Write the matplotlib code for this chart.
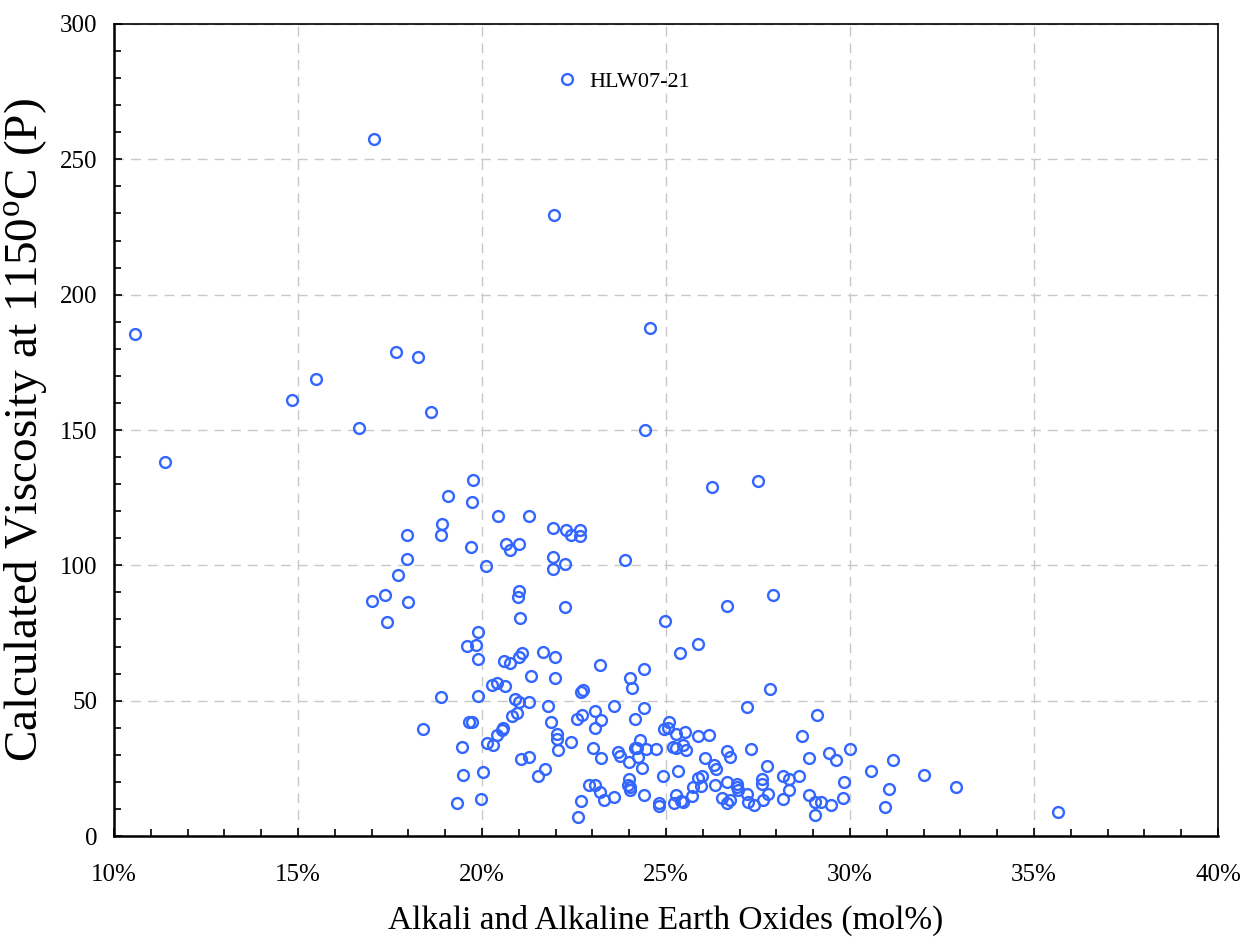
import matplotlib.pyplot as plt
from matplotlib.ticker import MultipleLocator, PercentFormatter

plt.rcParams['font.family'] = ['Liberation Serif', 'DejaVu Serif']
plt.rcParams['mathtext.fontset'] = 'custom'
plt.rcParams['mathtext.rm'] = 'Liberation Serif'

# alkali + alkaline earth oxides (mol%) vs calculated viscosity at 1150 C (P)
alkali_pct = [
    10.56, 11.39, 14.83, 15.50, 16.66, 17.07, 17.66, 18.25, 18.61, 17.97,
    17.97, 17.71, 17.36, 17.02, 17.99, 17.42, 18.39, 18.91, 18.90, 18.88,
    19.07, 19.75, 19.73, 19.69, 19.88, 19.60, 19.83, 19.88, 19.88, 19.66,
    19.74, 19.45, 19.48, 19.31, 19.98, 20.02,
    20.44, 20.65, 20.76, 20.10, 20.61, 20.77, 20.28, 20.41, 20.63, 20.91,
    20.82, 20.95, 20.56, 20.54, 20.42, 20.29, 20.13, 21.00, 21.00, 20.98,
    21.03, 21.08, 21.01, 21.01, 21.05,
    21.29, 21.92, 21.92, 21.92, 21.65, 21.99, 21.34, 21.99, 21.29, 21.79,
    21.88, 21.27, 21.52, 21.72, 21.97,
    22.27, 22.43, 22.67, 22.67, 22.25, 22.25, 22.69, 22.75, 22.57, 22.73,
    22.04, 22.04, 22.07, 22.41, 22.90, 22.70, 22.61,
    23.22, 23.90, 23.60, 23.08, 23.23, 23.06, 23.01, 23.23, 23.70, 23.76,
    23.99, 23.06, 23.21, 23.31, 23.59, 23.99, 23.97, 24.01, 24.01,
    24.03, 24.07, 24.40, 24.39, 24.15, 24.15, 24.21, 24.45, 24.73, 24.30,
    24.23, 24.35, 24.92, 24.40, 24.81, 24.81, 24.98, 24.57, 24.44, 24.94,
    25.07, 25.05, 25.26, 25.53, 25.86, 25.18, 25.26, 25.47, 25.55, 25.34,
    25.21, 25.26, 25.41, 25.45, 25.70, 25.73, 25.86, 25.99, 25.96, 25.86,
    25.37,
    26.25, 26.65, 26.17, 26.06, 26.31, 26.36, 26.65, 26.73, 26.34, 26.51,
    26.66, 26.75, 26.66, 26.93, 26.94, 26.96,
    27.50, 27.90, 27.82, 27.19, 27.30, 27.75, 27.20, 27.23, 27.38, 27.60,
    27.61, 27.76, 27.65,
    28.18, 28.33, 28.62, 28.35, 28.18, 28.70, 28.89, 28.88, 29.05, 29.20,
    29.48, 29.05, 29.10, 29.43, 29.62, 29.85, 29.81, 30.01,
    30.56, 30.94, 31.06, 31.18, 32.00, 32.89, 35.65,
]
viscosity = [
    185.3, 138.3, 161.2, 168.9, 150.8, 257.5, 178.9, 177.0, 156.5, 111.3,
    102.3, 96.6, 89.2, 86.8, 86.6, 79.0, 39.5, 115.3, 111.1, 51.4,
    125.6, 131.4, 123.4, 106.9, 75.3, 70.3, 70.6, 65.4, 51.8, 42.1,
    42.1, 32.9, 22.7, 12.2, 13.6, 23.6,
    118.3, 108.0, 105.5, 99.7, 64.7, 64.1, 55.7, 56.6, 55.5, 50.7,
    44.4, 45.4, 40.0, 39.1, 37.5, 33.7, 34.3, 108.0, 90.4, 88.2,
    80.5, 67.8, 66.3, 49.5, 28.4,
    118.3, 113.8, 102.9, 98.8, 68.0, 66.3, 59.1, 58.4, 49.6, 47.9,
    42.1, 29.2, 22.3, 24.9, 229.6,
    113.0, 111.3, 112.9, 110.9, 100.5, 84.5, 53.1, 54.0, 43.1, 44.7,
    37.6, 35.8, 31.6, 34.6, 18.9, 13.0, 7.0,
    63.1, 102.1, 47.9, 46.1, 42.9, 40.0, 32.6, 28.7, 31.0, 29.5,
    27.3, 19.0, 16.3, 13.3, 14.6, 21.2, 18.8, 18.2, 17.1,
    58.3, 54.6, 61.6, 47.3, 43.1, 32.5, 32.5, 32.1, 32.1, 35.6,
    29.1, 25.3, 22.2, 15.3, 12.3, 11.0, 79.4, 187.7, 150.0, 39.5,
    42.0, 39.9, 37.6, 38.4, 36.9, 32.9, 32.6, 33.6, 31.9, 24.1,
    12.2, 15.3, 13.0, 12.4, 14.8, 18.2, 21.3, 22.1, 18.5, 70.8,
    67.6,
    129.1, 85.0, 37.3, 28.9, 26.3, 24.7, 31.5, 29.2, 18.8, 14.0,
    12.3, 13.4, 20.0, 19.2, 18.1, 17.0,
    131.3, 89.2, 54.2, 47.5, 32.2, 25.9, 15.6, 12.6, 11.3, 21.2,
    19.1, 15.5, 13.4,
    22.3, 21.0, 22.0, 17.0, 13.7, 36.9, 29.0, 15.1, 12.6, 12.7,
    11.5, 7.7, 44.8, 30.5, 28.0, 20.1, 14.2, 32.3,
    24.1, 10.8, 17.5, 28.0, 22.7, 18.1, 8.8,
]
series_name = 'HLW07-21'

fig = plt.figure(figsize=(12.44, 9.40), dpi=100)
ax = fig.add_axes([0.0916, 0.1106, 0.8875, 0.8639])

ax.plot(alkali_pct, viscosity, linestyle='none', marker='o', markersize=7.8,
        markerfacecolor='none', markeredgecolor='#3366ff', markeredgewidth=1.7,
        label=series_name)

ax.set_xlim(10, 40)
ax.set_ylim(0, 300)
ax.xaxis.set_major_locator(MultipleLocator(5))
ax.xaxis.set_minor_locator(MultipleLocator(1))
ax.yaxis.set_major_locator(MultipleLocator(50))
ax.yaxis.set_minor_locator(MultipleLocator(10))
ax.xaxis.set_major_formatter(PercentFormatter(xmax=100, decimals=0))

ax.grid(True, which='major', color='#c8c8c8', linestyle=(0, (7, 5)), linewidth=1.0)
ax.tick_params(which='both', direction='in', top=False, right=False,
               labelsize=18, width=1.2, color='black')
ax.tick_params(which='major', length=6)
ax.tick_params(which='minor', length=5)
ax.tick_params(axis='y', pad=12)
ax.tick_params(axis='x', pad=20)
for side in ['left', 'bottom']:
    ax.spines[side].set_linewidth(1.8)
for side in ['top', 'right']:
    ax.spines[side].set_linewidth(1.2)

ax.set_xlabel('Alkali and Alkaline Earth Oxides (mol%)', fontsize=24, labelpad=14)
ax.set_ylabel(r'Calculated Viscosity at 1150$^{\mathrm{o}}$C (P)', fontsize=34)
ax.yaxis.set_label_coords(-0.058, 0.5)

ax.legend(loc='center left', bbox_to_anchor=(0.400, 0.929), frameon=False,
          fontsize=16, handlelength=1.0, handletextpad=0.5, borderpad=0,
          borderaxespad=0)

fig.savefig('out.png', dpi=100)
